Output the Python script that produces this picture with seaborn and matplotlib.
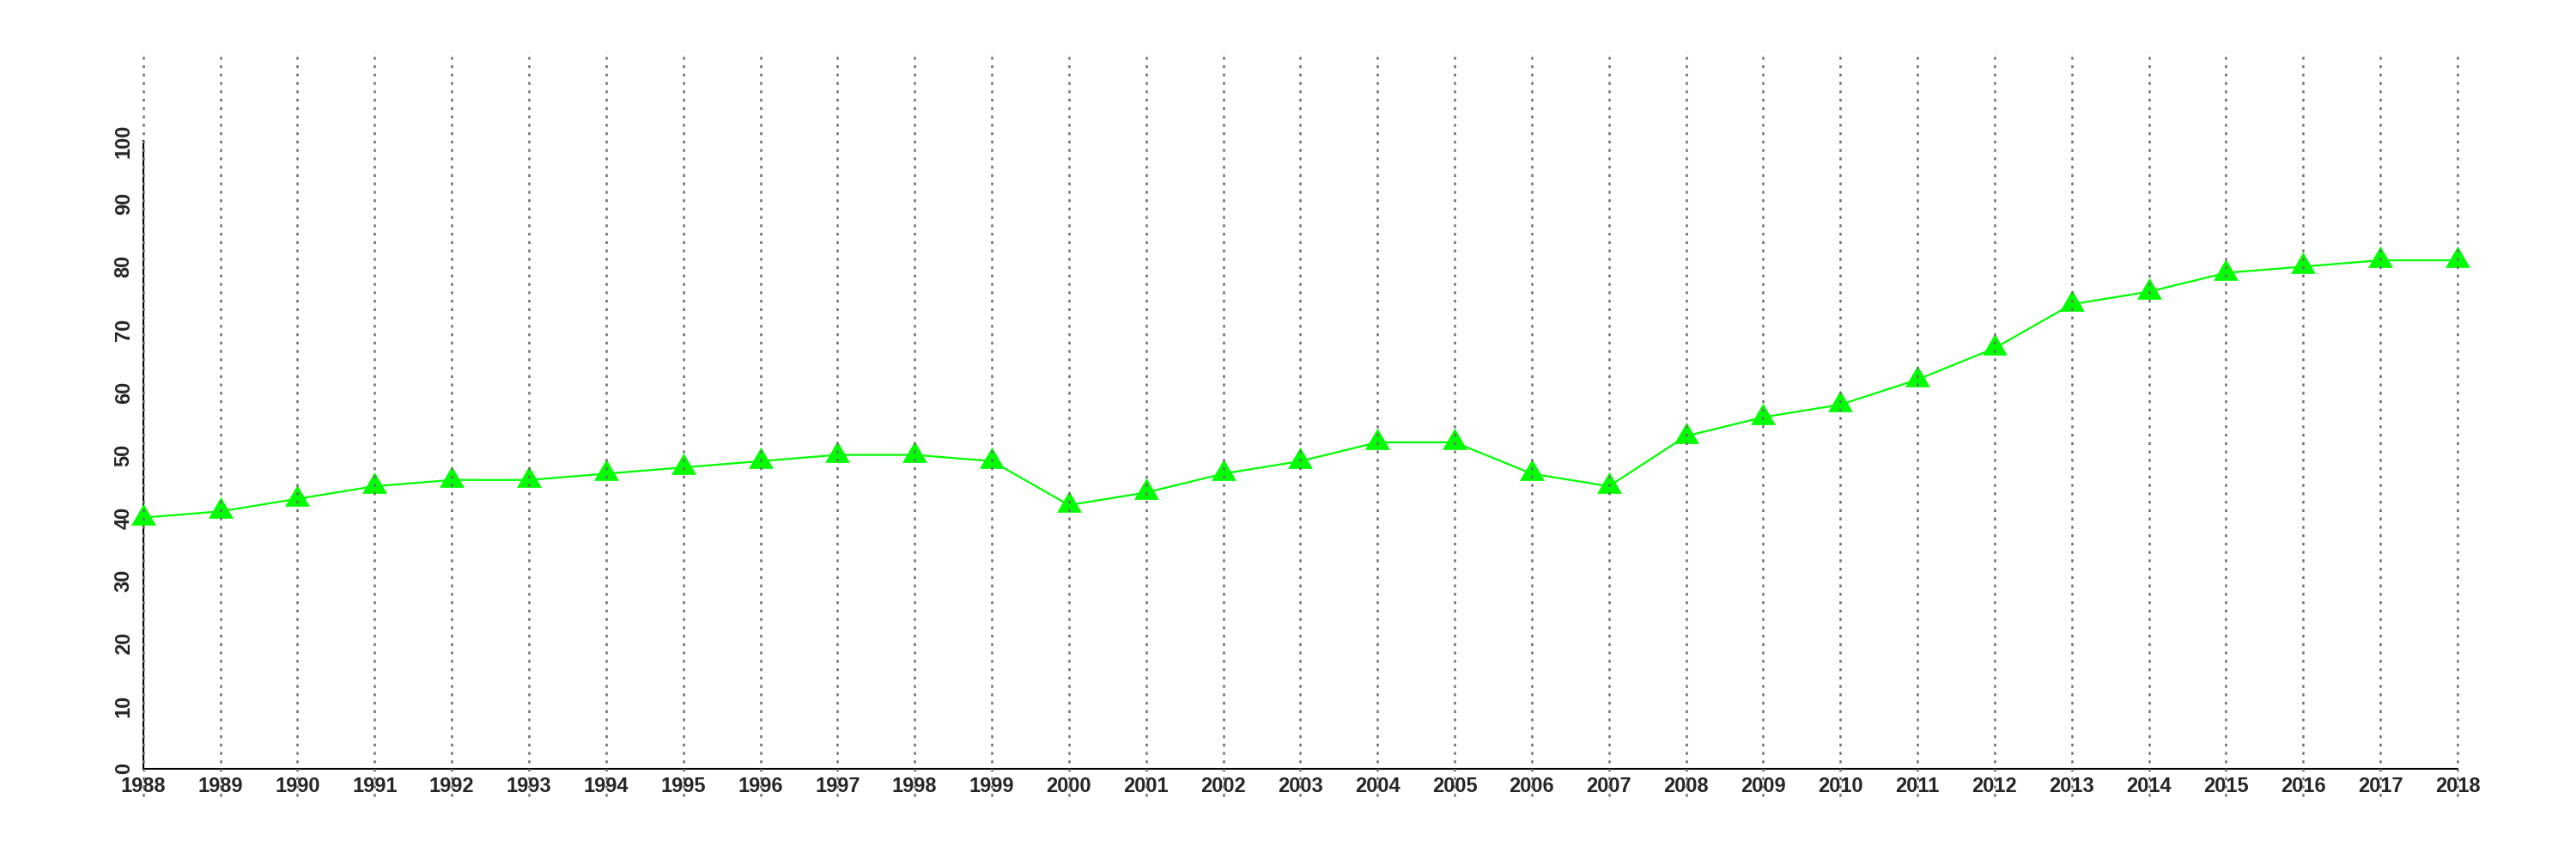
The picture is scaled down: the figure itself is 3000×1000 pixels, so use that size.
import numpy as np
import pandas as pd
import matplotlib
matplotlib.use('Agg')
import matplotlib.pyplot as plt
import seaborn as sns

# data
years = list(range(1988, 2019))
values = [40, 41, 43, 45, 46, 46, 47, 48, 49, 50, 50, 49,
          42, 44, 47, 49, 52, 52, 47, 45, 53, 56, 58, 62,
          67, 74, 76, 79, 80, 81, 81]
y_ticks = list(range(0, 101, 10))

df = pd.DataFrame({'year': years, 'value': values})

sns.set_style('white')
plt.rcParams['font.family'] = ['Liberation Sans', 'DejaVu Sans']

fig = plt.figure(figsize=(30, 10), dpi=100)
ax = fig.add_axes([0.0556, 0.073, 0.8984, 0.868])

# triangle centred on its centroid, like R's pch 17
tri = [(0, 0.577), (-0.5, -0.289), (0.5, -0.289), (0, 0.577)]

sns.lineplot(data=df, x='year', y='value', ax=ax, color='#00ff00',
             linewidth=1.6, marker=tri, markersize=24,
             markeredgewidth=0, markerfacecolor='#00ff00', zorder=3,
             clip_on=False)

ax.set_xlim(years[0], years[-1])
ax.set_ylim(-4.4, 114.4)

# spines first: set_position resets the tick labels
for s in ['top', 'right']:
    ax.spines[s].set_visible(False)
ax.spines['bottom'].set_position(('data', 0))
ax.spines['bottom'].set_bounds(years[0], years[-1])
ax.spines['left'].set_bounds(0, 100)
for s in ['bottom', 'left']:
    ax.spines[s].set_linewidth(1.5)
    ax.spines[s].set_color('black')

# dotted verticals over everything, like abline after plotting
ax.vlines(years, -4.4, 114.4, colors='#6e6e6e', linestyles=(0, (1.3, 2.6)),
          linewidth=1.8, zorder=10, clip_on=False)

ax.set_xticks(years)
ax.set_xticklabels([str(y) for y in years], fontsize=17, fontweight='bold')
ax.set_yticks(y_ticks)
ax.set_yticklabels([str(v) for v in y_ticks], fontsize=17, fontweight='bold',
                   rotation=90, va='center')

ax.set_xlabel('')
ax.set_ylabel('')

ax.tick_params(axis='both', direction='out', length=6, width=1.5, color='black')
ax.tick_params(axis='x', pad=0.5)
ax.tick_params(axis='y', pad=2)
ax.grid(False)

plt.savefig('out.png', dpi=100)
